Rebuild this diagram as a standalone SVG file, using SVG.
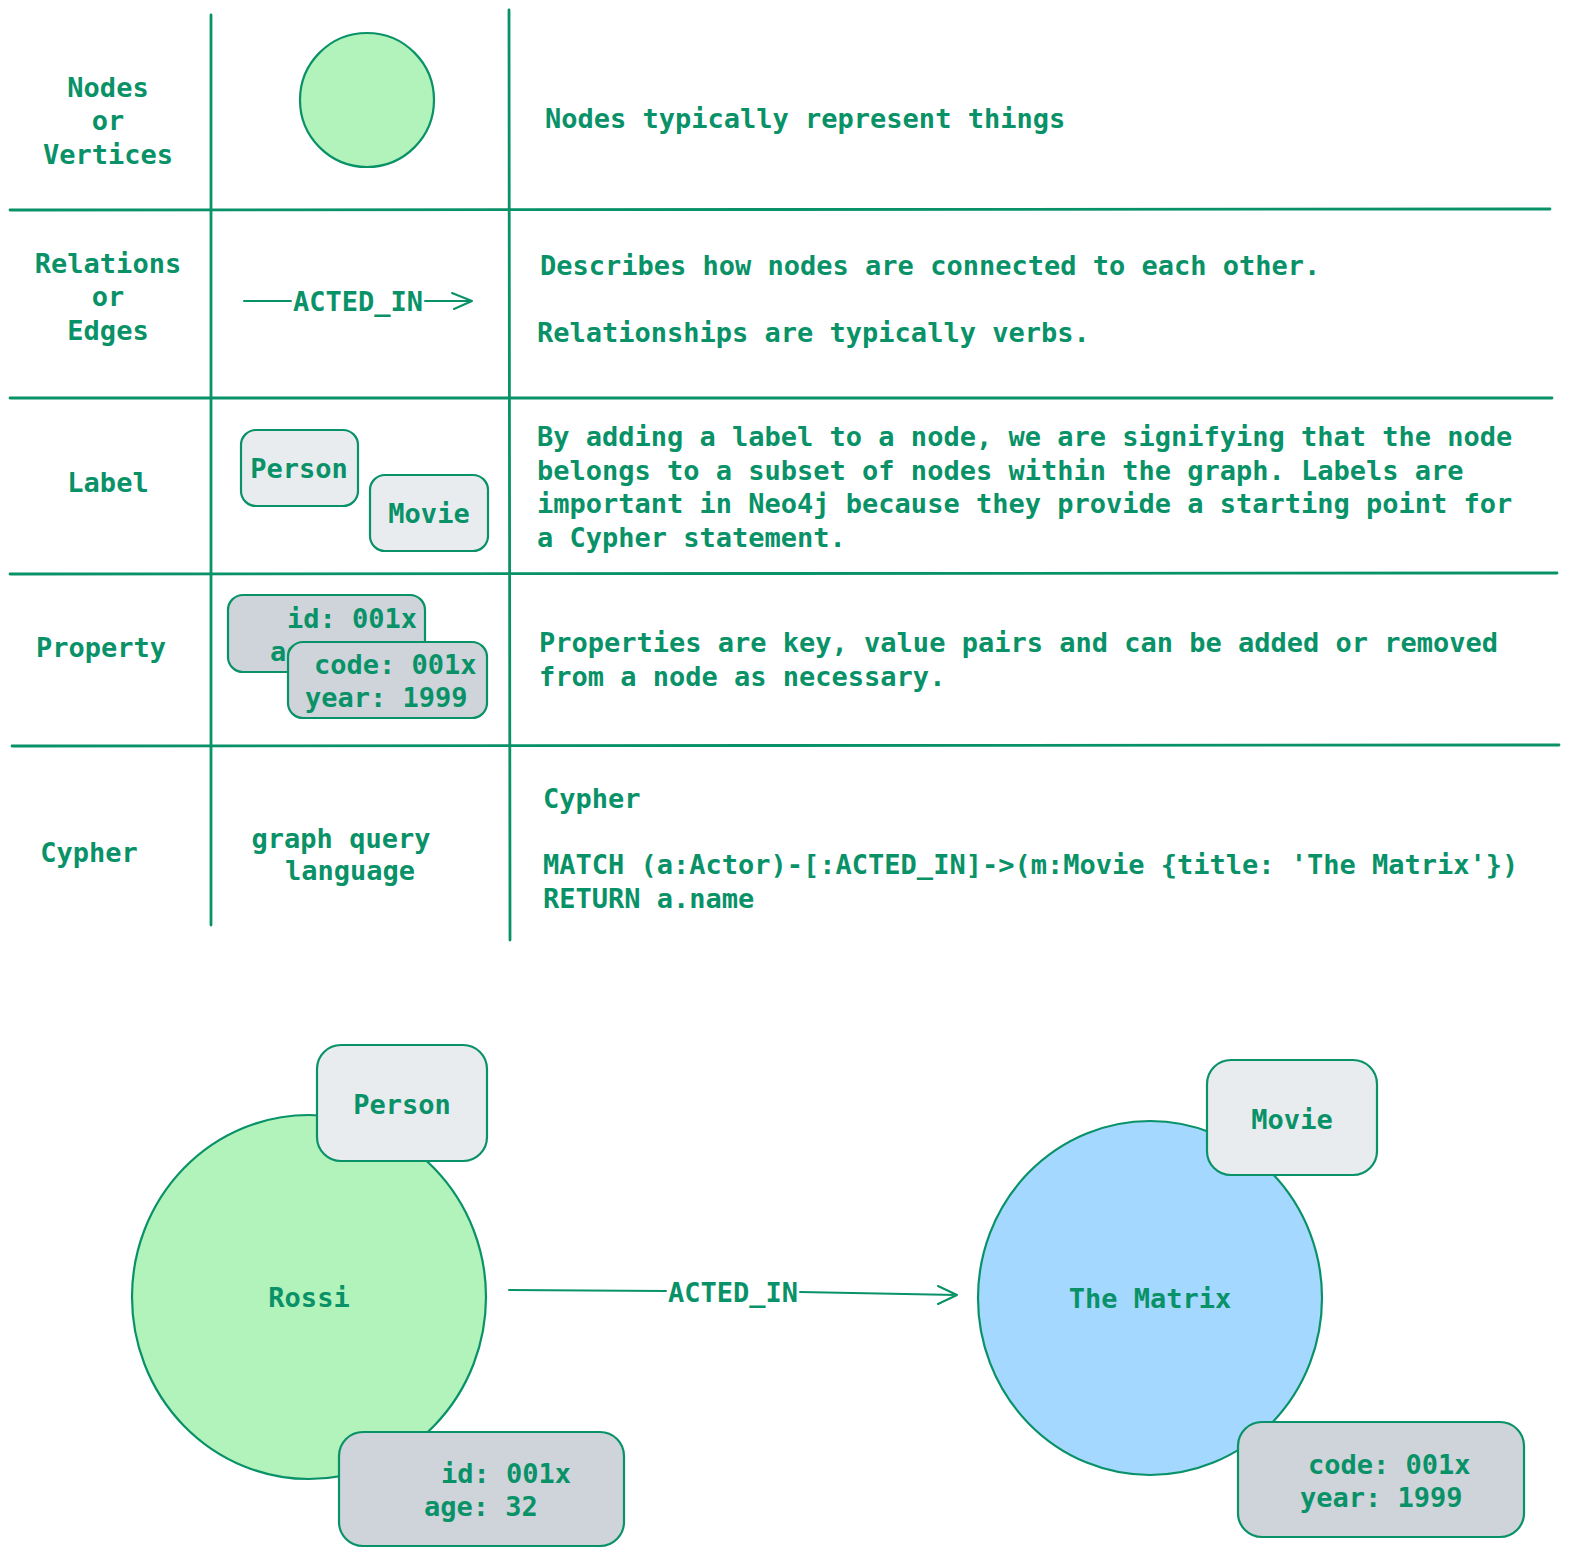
<svg xmlns="http://www.w3.org/2000/svg" width="1577" height="1565" viewBox="0 0 1577 1565">
<style>
  .t { font-family: "DejaVu Sans Mono", "Liberation Mono", monospace; font-size: 27px; fill: #099268; font-weight: bold; }
  .m { text-anchor: middle; }
  .grid { stroke: #099268; stroke-width: 2.8; fill: none; stroke-linecap: round; }
  .ln { stroke: #099268; stroke-width: 2; fill: none; stroke-linecap: round; stroke-linejoin: round; }
  .green { fill: #b2f2bb; stroke: #099268; stroke-width: 2.2; }
  .blue { fill: #a5d8ff; stroke: #099268; stroke-width: 2.2; }
  .lab { fill: #e9ecef; stroke: #099268; stroke-width: 2.2; }
  .prop { fill: #ced4da; stroke: #099268; stroke-width: 2.2; }
</style>
<rect width="1577" height="1565" fill="#ffffff"/>

<g id="grid">
  <line class="grid" x1="211" y1="15" x2="211" y2="925"/>
  <line class="grid" x1="509" y1="10" x2="510" y2="940"/>
  <line class="grid" x1="10" y1="210" x2="1550" y2="209"/>
  <line class="grid" x1="10" y1="398" x2="1552" y2="398"/>
  <line class="grid" x1="10" y1="574" x2="1557" y2="573"/>
  <line class="grid" x1="12" y1="746" x2="1559" y2="745"/>
</g>

<g id="row-nodes">
  <text class="t m" x="108" y="97">Nodes</text>
  <text class="t m" x="108" y="130">or</text>
  <text class="t m" x="108" y="164">Vertices</text>
  <ellipse class="green" cx="367" cy="100" rx="67" ry="67"/>
  <text class="t" x="545" y="128">Nodes typically represent things</text>
</g>

<g id="row-relations">
  <text class="t m" x="108" y="273">Relations</text>
  <text class="t m" x="108" y="306">or</text>
  <text class="t m" x="108" y="340">Edges</text>
  <text class="t m" x="358" y="311">ACTED_IN</text>
  <text class="t" x="540" y="275">Describes how nodes are connected to each other.</text>
  <text class="t" x="537" y="342">Relationships are typically verbs.</text>
</g>

<g id="row-label">
  <text class="t m" x="108" y="492">Label</text>
  <rect class="lab" x="241" y="430" width="117" height="76" rx="15"/>
  <text class="t m" x="299" y="478">Person</text>
  <rect class="lab" x="370" y="475" width="118" height="76" rx="15"/>
  <text class="t m" x="429" y="523">Movie</text>
  <text class="t" x="537" y="446">By adding a label to a node, we are signifying that the node</text>
  <text class="t" x="537" y="480">belongs to a subset of nodes within the graph. Labels are</text>
  <text class="t" x="537" y="513">important in Neo4j because they provide a starting point for</text>
  <text class="t" x="537" y="547">a Cypher statement.</text>
</g>

<g id="row-property">
  <text class="t m" x="101" y="657">Property</text>
  <rect class="prop" x="228" y="595" width="197" height="77" rx="15"/>
  <text class="t" x="287" y="628">id: 001x</text>
  <text class="t" x="270" y="661">age: 32</text>
  <rect class="prop" x="288" y="642" width="199" height="76" rx="15"/>
  <text class="t" x="314" y="674">code: 001x</text>
  <text class="t" x="305" y="707">year: 1999</text>
  <text class="t" x="539" y="652">Properties are key, value pairs and can be added or removed</text>
  <text class="t" x="539" y="686">from a node as necessary.</text>
</g>

<g id="row-cypher">
  <text class="t m" x="89" y="862">Cypher</text>
  <text class="t m" x="341" y="848">graph query</text>
  <text class="t m" x="350" y="880">language</text>
  <text class="t" x="543" y="808">Cypher</text>
  <text class="t" x="543" y="874">MATCH (a:Actor)-[:ACTED_IN]-&gt;(m:Movie {title: 'The Matrix'})</text>
  <text class="t" x="543" y="908">RETURN a.name</text>
</g>

<g id="rossi">
  <ellipse class="green" cx="309" cy="1297" rx="177" ry="182"/>
  <text class="t m" x="309" y="1307">Rossi</text>
</g>
<g id="rossi-label">
  <rect class="lab" x="317" y="1045" width="170" height="116" rx="24"/>
  <text class="t m" x="402" y="1114">Person</text>
</g>
<g id="rossi-props">
  <rect class="prop" x="339" y="1432" width="285" height="114" rx="24"/>
  <text class="t" x="441" y="1483">id: 001x</text>
  <text class="t" x="424" y="1516">age: 32</text>
</g>

<g id="matrix">
  <ellipse class="blue" cx="1150" cy="1298" rx="172" ry="177"/>
  <text class="t m" x="1150" y="1308">The Matrix</text>
</g>
<g id="matrix-label">
  <rect class="lab" x="1207" y="1060" width="170" height="115" rx="24"/>
  <text class="t m" x="1292" y="1129">Movie</text>
</g>
<g id="matrix-props">
  <rect class="prop" x="1238" y="1422" width="286" height="115" rx="24"/>
  <text class="t" x="1308" y="1474">code: 001x</text>
  <text class="t" x="1300" y="1507">year: 1999</text>
</g>

<g id="connectors">
  <path class="ln" d="M244 301 L291 301 M425 301 L472 301 M452 293 L472 301 L454 309"/>
  <path class="ln" d="M509 1290 L666 1291 M800 1292 L957 1295 M938 1286 L957 1295 L938 1304"/>
  <text class="t m" x="733" y="1302">ACTED_IN</text>
</g>
</svg>
